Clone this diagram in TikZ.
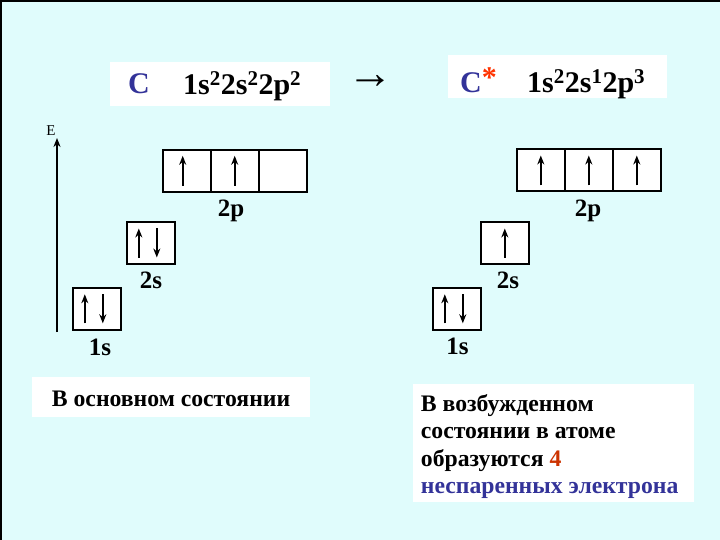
\documentclass[tikz,border=0pt]{standalone}
\usepackage{fontspec}
\setmainfont{Liberation Serif}
\usetikzlibrary{arrows.meta,positioning}
\definecolor{slidebg}{HTML}{E0FCFC}
\definecolor{atomblue}{HTML}{333399}
\definecolor{numred}{HTML}{CC3300}
\definecolor{starred}{HTML}{FF3300}

\begin{document}
\begin{tikzpicture}[x=1pt,y=-1pt,
    cell/.style={draw,line width=2pt,fill=white,minimum width=48pt,minimum height=42pt,inner sep=0pt,outer sep=0pt},
    wbox/.style={fill=white,inner sep=0pt},
    lbl/.style={font=\fontsize{25}{29}\selectfont\bfseries,inner sep=0pt,anchor=base},
    head/.style={font=\fontsize{30}{34}\selectfont,inner sep=0pt,anchor=base west},
    note/.style={font=\fontsize{23.7}{27.6}\selectfont\bfseries,inner sep=0pt},
    spin/.style={line width=2pt,-{Stealth[length=9pt,width=7pt]}}]
    \useasboundingbox (0,0) rectangle (720,540);
    \fill[slidebg] (0,0) rectangle (720,540);
    \draw[line width=2pt] (1,540) -- (1,1) -- (720,1);

    % formulas on top
    \node[wbox,minimum width=220pt,minimum height=44pt] (headL) at (220,84) {};
    \node[head,text=atomblue,font=\fontsize{30}{34}\selectfont\bfseries] (symL) at (128,94) {C};
    \node[head,font=\fontsize{30}{34}\selectfont\bfseries] (cfgL) at (183,95) {1s\textsuperscript{2}2s\textsuperscript{2}2p\textsuperscript{2}};
    \node[inner sep=0pt,font=\fontsize{46}{46}\selectfont\bfseries] (goes) at (370,82) {→};
    \node[wbox,minimum width=219pt,minimum height=43pt] (headR) at (557.5,76.5) {};
    \node[head,text=atomblue,font=\fontsize{30}{34}\selectfont\bfseries] (symR) at (460,93) {C\raisebox{5pt}{\textcolor{starred}{*}}};
    \node[head,font=\fontsize{30}{34}\selectfont\bfseries] (cfgR) at (527,93) {1s\textsuperscript{2}2s\textsuperscript{1}2p\textsuperscript{3}};

    % energy axis
    \node[inner sep=0pt,font=\fontsize{15}{15}\selectfont] (E) at (51,131) {E};
    \coordinate (axisbot) at (57,332);
    \coordinate (axistop) at (57,138);
    \draw[spin] (axisbot) -- (axistop);

    % ground state
    \node[cell] (s1L) at (96.8,308.8) {};
    \node[cell] (s2L) at (150.8,243) {};
    \node[cell] (p1L) at (186.7,170.8) {};
    \node[cell,right=0pt of p1L] (p2L) {};
    \node[cell,right=0pt of p2L] (p3L) {};
    \node[lbl] (l1sL) at (100,355) {1s};
    \node[lbl] (l2sL) at (151,288) {2s};
    \node[lbl] (l2pL) at (231,217) {2p};
    \draw[spin] ([xshift=-12pt,yshift=-14.5pt]s1L.center) -- ([xshift=-12pt,yshift=14.5pt]s1L.center);
    \draw[spin] ([xshift=6pt,yshift=14.5pt]s1L.center) -- ([xshift=6pt,yshift=-14.5pt]s1L.center);
    \draw[spin] ([xshift=-12pt,yshift=-14.5pt]s2L.center) -- ([xshift=-12pt,yshift=14.5pt]s2L.center);
    \draw[spin] ([xshift=6pt,yshift=14.5pt]s2L.center) -- ([xshift=6pt,yshift=-14.5pt]s2L.center);
    \draw[spin] ([xshift=-4pt,yshift=-15pt]p1L.center) -- ([xshift=-4pt,yshift=15pt]p1L.center);
    \draw[spin] ([yshift=-15pt]p2L.center) -- ([yshift=15pt]p2L.center);

    % excited state
    \node[cell] (s1R) at (456.8,308.8) {};
    \node[cell] (s2R) at (504.8,243) {};
    \node[cell] (p1R) at (540.8,170.5) {};
    \node[cell,right=0pt of p1R] (p2R) {};
    \node[cell,right=0pt of p2R] (p3R) {};
    \node[lbl] (l1sR) at (457.5,354) {1s};
    \node[lbl] (l2sR) at (508,288) {2s};
    \node[lbl] (l2pR) at (588,217) {2p};
    \draw[spin] ([xshift=-12pt,yshift=-14.5pt]s1R.center) -- ([xshift=-12pt,yshift=14.5pt]s1R.center);
    \draw[spin] ([xshift=6pt,yshift=14.5pt]s1R.center) -- ([xshift=6pt,yshift=-14.5pt]s1R.center);
    \draw[spin] ([yshift=-14.5pt]s2R.center) -- ([yshift=14.5pt]s2R.center);
    \draw[spin] ([yshift=-15pt]p1R.center) -- ([yshift=15pt]p1R.center);
    \draw[spin] ([yshift=-15pt]p2R.center) -- ([yshift=15pt]p2R.center);
    \draw[spin] ([yshift=-15pt]p3R.center) -- ([yshift=15pt]p3R.center);

    % captions
    \node[wbox,minimum width=278pt,minimum height=40pt] (capL) at (171,397) {};
    \node[note,anchor=base west] (txtL) at (51.7,406.7) {В основном состоянии};
    \node[wbox,minimum width=281pt,minimum height=118pt] (capR) at (553.5,443) {};
    \node[note,anchor=north west,align=left] (txtR) at (420.7,394) {В возбужденном\\состоянии в атоме\\образуются \textcolor{numred}{4}\\\textcolor{atomblue}{неспаренных электрона}};
\end{tikzpicture}
\end{document}
